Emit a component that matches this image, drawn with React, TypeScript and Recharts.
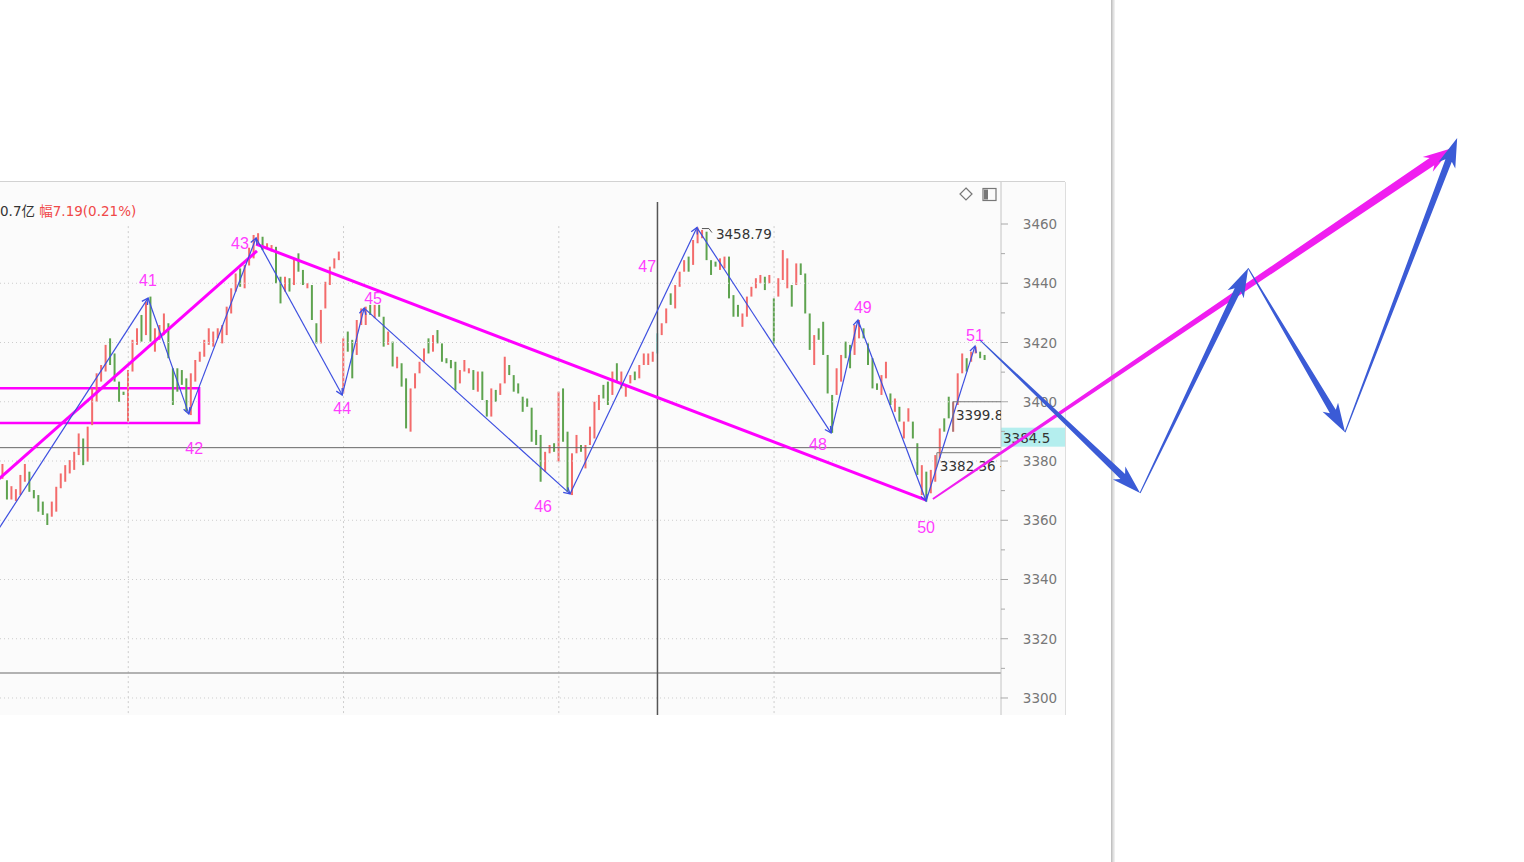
import React from "react";
import {
  ComposedChart,
  Bar,
  Cell,
  XAxis,
  YAxis,
  ReferenceLine,
  ReferenceArea,
  ReferenceDot,
} from "recharts";

// bar lows / highs (one per bar, left to right)
const candleLow = [
  3374, 3367, 3367, 3366.5, 3368.5, 3373, 3369.6, 3367.4, 3362.9, 3361.8,
  3358.4, 3361.2, 3362.9, 3370.8, 3373, 3375.8, 3377, 3382, 3378.6, 3379.8,
  3392.1, 3400, 3406.8, 3410.2, 3412.4, 3406.8, 3400, 3402.3, 3393.3, 3410.2,
  3419.2, 3420.3, 3422.5, 3420.3, 3416.9, 3420.9, 3422.5, 3414.7, 3398.9, 3403.4,
  3405.7, 3396.6, 3395.5, 3406.8, 3413.5, 3415.2, 3419.2, 3418.6, 3421.4, 3419.7,
  3422.5, 3429.8, 3437.2, 3438.8, 3438.3, 3446, 3448.4, 3453, 3451.2, 3451.8,
  3450.7, 3440, 3433.2, 3437.2, 3437.2, 3439.4, 3443.9, 3439.4, 3438.3, 3427.6,
  3419.7, 3419.7, 3431.5, 3439.4, 3445, 3447.8, 3402.8, 3416.9, 3407.9, 3415.8,
  3425.9, 3425.9, 3429.3, 3428.2, 3428.7, 3418.6, 3419.2, 3411.9, 3411.3, 3405.1,
  3391, 3389.9, 3404.5, 3409.6, 3413.5, 3416.3, 3416.9, 3419.7, 3413.5, 3413,
  3411.3, 3404, 3406.2, 3410.2, 3409.6, 3404, 3403.4, 3400.6, 3395, 3395,
  3400, 3402.3, 3406.2, 3409, 3403.4, 3402.8, 3396.6, 3398.3, 3386.5, 3385.4,
  3373, 3376.4, 3382.6, 3383.1, 3379.8, 3386.5, 3369.6, 3368.5, 3382.6, 3383.1,
  3377.5, 3385.4, 3387.6, 3397.2, 3401.1, 3398.9, 3402.3, 3406.8, 3404.5, 3401.7,
  3406.2, 3407.3, 3407.9, 3412.4, 3412.4, 3413.5, 3416.3, 3422.5, 3426.5, 3432.7,
  3431.5, 3438.8, 3443.9, 3443.9, 3446.2, 3453.5, 3455.2, 3447.8, 3442.8, 3445.6,
  3444.5, 3445, 3434.9, 3428.7, 3428.7, 3425.3, 3428.7, 3435.5, 3438.3, 3440,
  3437.7, 3440, 3419.7, 3435.5, 3441.1, 3438.3, 3432.1, 3439.4, 3442.8, 3429.8,
  3417.5, 3412.4, 3420.9, 3415.8, 3402.8, 3389.5, 3402.3, 3406.8, 3414.7, 3411.3,
  3415.8, 3421.4, 3421.4, 3412.4, 3404.5, 3404, 3402.3, 3407.9, 3398.9, 3396.6,
  3393.3, 3387.6, 3393.3, 3387.6, 3375.3, 3368.5, 3366.3, 3369.1, 3373, 3380.9,
  3389.9, 3394.4, 3389.9, 3398.9, 3409.6, 3410.2, 3413.5, 3416.3, 3414.7, 3414.1,
];
const candleHigh = [
  3379, 3373.5, 3371.5, 3370.5, 3375.3, 3379, 3376.4, 3370.2, 3368.5, 3366.3,
  3362.3, 3366.3, 3371.3, 3375.8, 3378.6, 3380.3, 3383.1, 3389.3, 3387.6, 3391.6,
  3404.5, 3409.6, 3412.4, 3419.2, 3421.4, 3416.3, 3406.8, 3403.4, 3410.7, 3420.9,
  3424.8, 3429.3, 3433.8, 3435.5, 3424.8, 3425.9, 3429.8, 3426.5, 3411.3, 3411.3,
  3410.7, 3407.9, 3409.6, 3414.1, 3416.9, 3420.9, 3424.8, 3423.7, 3424.8, 3425.9,
  3432.1, 3438.3, 3443.3, 3445, 3446.2, 3452, 3456.3, 3456.9, 3455.7, 3453.5,
  3452.9, 3452.3, 3442.2, 3442.2, 3441.7, 3448.4, 3450.1, 3444.5, 3440, 3439.4,
  3426.5, 3431, 3440.5, 3445.6, 3448.4, 3450.7, 3421.4, 3423.7, 3420.9, 3427.6,
  3431.5, 3432.1, 3432.7, 3432.7, 3432.7, 3428.7, 3423.7, 3420.3, 3415.2, 3413,
  3407.9, 3404.5, 3409.6, 3413.5, 3418, 3421.4, 3422.5, 3424.2, 3419.7, 3414.7,
  3414.1, 3413.5, 3410.7, 3414.1, 3411.3, 3410.7, 3410.2, 3410.2, 3400.6, 3404.5,
  3404, 3406.2, 3415.2, 3412.4, 3409, 3406.2, 3401.7, 3401.1, 3398, 3390.5,
  3388.8, 3383.1, 3385.4, 3386, 3403.4, 3404.5, 3389.9, 3382.6, 3388.8, 3385.4,
  3385.4, 3391.6, 3400, 3402.3, 3405.7, 3406.8, 3410.2, 3413, 3410.2, 3405.7,
  3409, 3410.2, 3412.4, 3416.3, 3416.3, 3416.9, 3423.1, 3426.5, 3431.5, 3436.6,
  3439.4, 3443.9, 3447.8, 3449, 3454.6, 3458.8, 3458, 3457.4, 3447.8, 3447.3,
  3448.4, 3449, 3449, 3436, 3432.7, 3429.8, 3435.5, 3438.8, 3441.7, 3442.8,
  3442.2, 3442.8, 3434.9, 3441.7, 3451.2, 3448.4, 3439.4, 3446.7, 3446.7, 3443.3,
  3429.8, 3422.5, 3424.8, 3427, 3415.8, 3402.3, 3411.3, 3415.8, 3420.3, 3419.2,
  3425.9, 3427.6, 3424.8, 3419.7, 3414.7, 3406.2, 3409, 3413.5, 3402.8, 3401.1,
  3398.3, 3393.3, 3397.8, 3393.3, 3386, 3378.6, 3376.4, 3377, 3382, 3391,
  3394.4, 3401.7, 3400, 3409.6, 3416.3, 3414.7, 3416.9, 3418.6, 3416.9, 3415.8,
];
// r = up (red), g = down (green), c = bar under the crosshair
const candleDir =
  "rgrrrrgggg" + "grrrrrrrgr" + "rrrrggggrr" + "rgrgrrrggg" + "ggrrrrrrrr" +
  "rrrgrrrrgr" + "rggrgrggrg" + "grrrrrrggr" + "rrgrggrgrg" + "grrrrgrggg" +
  "ggrrrgrggr" + "grrggggggg" + "grrgrggrrg" + "rrrrggrgrr" + "rgrrrrcrrg" +
  "rrrgrrrggg" + "rrgggrrrrr" + "grgrrrgrgg" + "grggggrrgg" + "rrggggrrgr" +
  "grrggrgrrr" + "ggrrrgrrgg";

const priceTicks = [
  3300, 3310, 3320, 3330, 3340, 3350, 3360, 3370, 3380, 3390,
  3400, 3410, 3420, 3430, 3440, 3450, 3460,
];
const gridPrices = [3300, 3320, 3340, 3360, 3380, 3400, 3420, 3440];
const gridBars = [28, 76, 124, 172];
const crossBar = 146;
const lastPrice = 3384.5;
const paneSplit = 3308.4;

// blue zigzag (bar position, price)
const waveBar = [-1, 32.4, 41.5, 56.5, 75.7, 80.6, 126.5, 154.8, 184.7, 190.7, 205.9, 216.8];
const wavePrice = [3356.8, 3435.0, 3395.9, 3455.3, 3402.3, 3431.6, 3368.9, 3458.8, 3389.5, 3427.6, 3366.5, 3418.8];

const waveNames = ["41", "42", "43", "44", "45", "46", "47", "48", "49", "50", "51"];
const nameBar = [32.4, 42.7, 52.9, 75.7, 82.6, 120.5, 143.7, 181.8, 191.8, 205.9, 216.8];
const namePrice = [3440.8, 3384.1, 3453.3, 3397.6, 3435.0, 3364.5, 3445.5, 3385.7, 3431.7, 3357.4, 3422.5];

// magenta trend lines
const trendBar = [[-1, 56.7], [56.5, 205.9]];
const trendPrice = [[3373.7, 3450.9], [3453.2, 3366.8]];
const boxBar = [-3, 43.8];
const boxPrice = [3392.8, 3404.6];

// projected legs drawn past the price axis
const projBar = [217.9, 253.6, 277.7, 299.3, 324.3];
const projPrice = [3420.8, 3369.2, 3445.1, 3389.7, 3489.0];
const targetBar = [207.4, 323.1];
const targetPrice = [3367.2, 3485.6];

const noteBar = [154.8, 211.9, 208.3];
const notePrice = [3458.8, 3400.0, 3382.8];
const noteText = ["3458.79", "3399.8", "3382.36 -"];

const X_MAIN = [-0.6, 222.6];
const Y_MAIN = [3294.26, 3474.18];
const X_WIDE = [-0.6, 339.2];
const Y_WIDE = [3244.64, 3535.61];

const RED = "#f36b6b";
const GREEN = "#5ea34f";
const TEAL = "#7fd8d3";
const BLUE = "#3d4fe0";
const BLUE_BOLD = "#3b5bd6";
const PINK = "#ff00ff";
const PINK_TEXT = "#ff3dff";
const FONT = "'DejaVu Sans', 'Noto Sans CJK SC', sans-serif";

const candles = candleLow.map((lo, i) => ({
  i,
  lo,
  hi: candleHigh[i],
  dir: candleDir[i],
}));

const legShape = (color: string) => (p: any) => {
  const { x1, y1, x2, y2 } = p;
  const a = Math.atan2(y2 - y1, x2 - x1);
  const L = 7;
  const s = 0.5;
  const hx1 = x2 - L * Math.cos(a - s);
  const hy1 = y2 - L * Math.sin(a - s);
  const hx2 = x2 - L * Math.cos(a + s);
  const hy2 = y2 - L * Math.sin(a + s);
  return (
    <g clipPath={p.clipPath}>
      <line x1={x1} y1={y1} x2={x2} y2={y2} stroke={color} strokeWidth={1.2} />
      <polyline
        points={`${hx1},${hy1} ${x2},${y2} ${hx2},${hy2}`}
        fill="none"
        stroke={color}
        strokeWidth={1.3}
      />
    </g>
  );
};

const taperShape = (color: string, w0: number, w1: number, head: number, half: number) => (p: any) => {
  const { x1, y1, x2, y2 } = p;
  const dx = x2 - x1;
  const dy = y2 - y1;
  const len = Math.hypot(dx, dy) || 1;
  const ux = dx / len;
  const uy = dy / len;
  const nx = -uy;
  const ny = ux;
  const kx = x2 - ux * head;
  const ky = y2 - uy * head;
  const bx = kx - ux * 5;
  const by = ky - uy * 5;
  const pts = [
    [x1 + nx * w0, y1 + ny * w0],
    [kx + nx * w1, ky + ny * w1],
    [bx + nx * half, by + ny * half],
    [x2, y2],
    [bx - nx * half, by - ny * half],
    [kx - nx * w1, ky - ny * w1],
    [x1 - nx * w0, y1 - ny * w0],
  ];
  return <polygon points={pts.map((q) => q.join(",")).join(" ")} fill={color} />;
};

const AxisTick = (p: any) => {
  const { x, y, payload } = p;
  const v = payload.value;
  const major = v % 20 === 0;
  return (
    <g>
      <line x1={x} x2={x + (major ? 7 : 4)} y1={y} y2={y} stroke="#a8a8a8" />
      {major && (
        <text
          x={x + 39}
          y={y}
          textAnchor="middle"
          dominantBaseline="central"
          fill="#777"
          fontSize={13.5}
          fontFamily={FONT}
        >
          {v}
        </text>
      )}
    </g>
  );
};

const LastPriceTag = (p: any) => {
  const { x, y, width } = p.viewBox;
  return (
    <g>
      <rect x={x + width} y={y - 20} width={64} height={19} fill="#b4eeee" />
      <text x={x + width + 2} y={y - 10} dominantBaseline="central" fill="#333" fontSize={13.5} fontFamily={FONT}>
        {lastPrice}
      </text>
    </g>
  );
};

const noteShape = (k: number) => (p: any) => {
  const { cx, cy } = p;
  if (k === 0) {
    return (
      <g clipPath={p.clipPath}>
        <polyline points={`${cx + 5},${cy + 1} ${cx + 12},${cy + 1} ${cx + 15},${cy + 5}`} fill="none" stroke="#555" />
        <text x={cx + 19} y={cy + 11} fill="#333" fontSize={13.5} fontFamily={FONT}>
          {noteText[k]}
        </text>
      </g>
    );
  }
  const drop = k === 1 ? 30 : 14;
  return (
    <g clipPath={p.clipPath}>
      <line x1={cx} y1={cy} x2={cx + 80} y2={cy} stroke="#777" />
      <line x1={cx} y1={cy} x2={cx} y2={cy + drop} stroke="#777" />
      <text x={cx + 3} y={cy + (k === 1 ? 18 : 18)} fill="#333" fontSize={13.5} fontFamily={FONT}>
        {noteText[k]}
      </text>
    </g>
  );
};

const nameShape = (name: string) => (p: any) => (
  <text
    x={p.cx}
    y={p.cy}
    textAnchor="middle"
    dominantBaseline="central"
    fill={PINK_TEXT}
    fontSize={16}
    fontFamily="'Liberation Sans', Arial, sans-serif"
  >
    {name}
  </text>
);

export default function App() {
  const legs = waveBar.slice(1).map((b, k) => [
    { x: waveBar[k], y: wavePrice[k] },
    { x: b, y: wavePrice[k + 1] },
  ]);
  const projLegs = projBar.slice(1).map((b, k) => [
    { x: projBar[k], y: projPrice[k] },
    { x: b, y: projPrice[k + 1] },
  ]);

  return (
    <div style={{ position: "relative", width: 1524, height: 862, background: "#fff", overflow: "hidden", fontFamily: FONT }}>
      <style>{"body{margin:0}"}</style>
      {/* chart panel */}
      <div style={{ position: "absolute", left: 0, top: 182, width: 1065, height: 533, background: "#fbfbfb" }} />
      <div style={{ position: "absolute", left: 0, top: 181, width: 1065, height: 1, background: "#d2d2d2" }} />
      <div style={{ position: "absolute", left: 1065, top: 182, width: 1, height: 533, background: "#dedede" }} />
      {/* window edge */}
      <div style={{ position: "absolute", left: 1111, top: 0, width: 4, height: 862, background: "linear-gradient(to right, #b8b8b8, #dcdcdc, #f4f4f4)" }} />

      <div style={{ position: "absolute", left: 0, top: 182 }}>
        <ComposedChart width={1065} height={533} data={candles} margin={{ top: 0, right: 0, bottom: 0, left: 0 }}>
          <XAxis dataKey="i" type="number" domain={X_MAIN} allowDataOverflow hide />
          <YAxis
            orientation="right"
            width={64}
            domain={Y_MAIN}
            allowDataOverflow
            ticks={priceTicks}
            interval={0}
            tick={AxisTick}
            tickLine={false}
            tickSize={0}
            tickMargin={0}
            axisLine={{ stroke: "#c4c4c4" }}
          />
          {gridPrices.map((v) => (
            <ReferenceLine key={"g" + v} y={v} stroke="#cdcdcd" strokeDasharray="1 3" />
          ))}
          {gridBars.map((b) => (
            <ReferenceLine
              key={"v" + b}
              segment={[{ x: b, y: 3459.3 }, { x: b, y: Y_MAIN[0] }]}
              stroke="#cdcdcd"
              strokeDasharray="2 3"
              ifOverflow="visible"
            />
          ))}
          <ReferenceLine y={paneSplit} stroke="#9a9a9a" strokeWidth={1.5} />
          <ReferenceLine y={lastPrice} stroke="#666" label={LastPriceTag} />
          <ReferenceLine
            segment={[{ x: crossBar, y: 3467.4 }, { x: crossBar, y: Y_MAIN[0] }]}
            stroke="#555"
            strokeWidth={1.5}
            ifOverflow="visible"
          />
          <Bar dataKey={(d: any) => [d.lo, d.hi]} barSize={2} isAnimationActive={false}>
            {candles.map((c) => (
              <Cell key={c.i} fill={c.dir === "r" ? RED : c.dir === "g" ? GREEN : TEAL} />
            ))}
          </Bar>
          <ReferenceArea
            x1={boxBar[0]}
            x2={boxBar[1]}
            y1={boxPrice[0]}
            y2={boxPrice[1]}
            ifOverflow="hidden"
            fill="none"
            fillOpacity={0}
            stroke={PINK}
            strokeWidth={2.5}
          />
          {trendBar.map((tb, k) => (
            <ReferenceLine
              key={"t" + k}
              segment={[{ x: tb[0], y: trendPrice[k][0] }, { x: tb[1], y: trendPrice[k][1] }]}
              stroke={PINK}
              strokeWidth={3}
              ifOverflow="hidden"
            />
          ))}
          {legs.map((seg, k) => (
            <ReferenceLine key={"l" + k} segment={seg} ifOverflow="hidden" shape={legShape(BLUE)} />
          ))}
          {noteBar.map((b, k) => (
            <ReferenceDot key={"n" + k} x={b} y={notePrice[k]} r={0} ifOverflow="hidden" shape={noteShape(k)} />
          ))}
          {waveNames.map((name, k) => (
            <ReferenceDot key={"w" + name} x={nameBar[k]} y={namePrice[k]} r={0} ifOverflow="visible" shape={nameShape(name)} />
          ))}
        </ComposedChart>
      </div>

      {/* top info line */}
      <div style={{ position: "absolute", left: 0, top: 202, fontSize: 13.5, lineHeight: "18px", whiteSpace: "nowrap" }}>
        <span style={{ color: "#333" }}>0.7亿 </span>
        <span style={{ color: "#f04848" }}>幅7.19(0.21%)</span>
      </div>
      <svg style={{ position: "absolute", left: 955, top: 185 }} width={45} height={20}>
        <polygon points="11,3 17,9 11,15 5,9" fill="none" stroke="#777" strokeWidth={1.2} />
        <rect x={28} y={3.5} width={13} height={12} fill="none" stroke="#777" strokeWidth={1.2} />
        <rect x={29} y={4.5} width={4} height={10} fill="#777" />
      </svg>

      {/* projection overlay */}
      <div style={{ position: "absolute", left: 0, top: 0, pointerEvents: "none" }}>
        <ComposedChart width={1524} height={862} data={projBar.map((b, k) => ({ i: b, p: projPrice[k] }))} margin={{ top: 0, right: 0, bottom: 0, left: 0 }}>
          <XAxis dataKey="i" type="number" domain={X_WIDE} allowDataOverflow hide />
          <YAxis domain={Y_WIDE} allowDataOverflow hide />
          <ReferenceLine
            segment={[{ x: targetBar[0], y: targetPrice[0] }, { x: targetBar[1], y: targetPrice[1] }]}
            ifOverflow="visible"
            shape={taperShape("#f01ef0", 0.9, 4.3, 24, 9)}
          />
          {projLegs.map((seg, k) => (
            <ReferenceLine
              key={"p" + k}
              segment={seg}
              ifOverflow="visible"
              shape={taperShape(BLUE_BOLD, 0.5, 3.4, 24, 9)}
            />
          ))}
        </ComposedChart>
      </div>
    </div>
  );
}
